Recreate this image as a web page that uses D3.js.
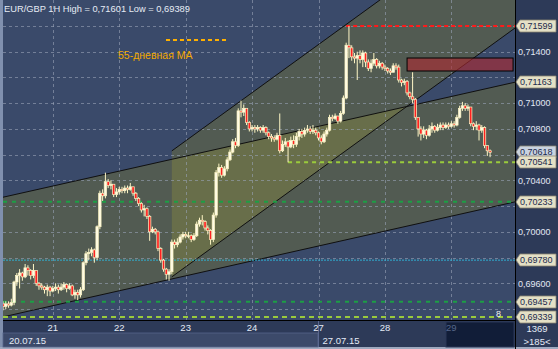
<!DOCTYPE html>
<html>
<head>
<meta charset="utf-8">
<script src="https://cdn.jsdelivr.net/npm/d3@7"></script>
<style>
  body { margin: 0; background: #2d3a57; }
  svg { display: block; font-family: "Liberation Sans", Arial, sans-serif; }
</style>
</head>
<body>
<svg id="chart" width="558" height="349"></svg>
<script>

/*************************** Data ***************************/

// hourly candles, index 0 = 20.07 06:00 ; open of each bar = close of the bar before
var firstOpen = 0.6944;
var closes = [
  0.6942, 0.6944, 0.6943, 0.6945, 0.6961, 0.6966, 0.6968, 0.6965, 0.6972, 0.6970,
  0.6966, 0.6970, 0.6960, 0.6958, 0.6957, 0.6955, 0.6957, 0.6954, 0.6956, 0.6957,
  0.6955, 0.6957, 0.6959, 0.6956, 0.6958, 0.6951, 0.6953, 0.6951, 0.6955, 0.6976,
  0.6983, 0.6984, 0.6986, 0.6980, 0.7004, 0.7030, 0.7028, 0.7039, 0.7036, 0.7037,
  0.7029, 0.7031, 0.7033, 0.7032, 0.7034, 0.7033, 0.7035, 0.7030, 0.7026, 0.7022,
  0.7017, 0.7018, 0.7012, 0.7000, 0.7002, 0.7000, 0.6987, 0.6978, 0.6971, 0.6967,
  0.6969, 0.6992, 0.6990, 0.6992, 0.6996, 0.6998, 0.6997, 0.6997, 0.6994, 0.6997,
  0.7006, 0.7009, 0.7008, 0.7003, 0.7001, 0.6994, 0.7013, 0.7046, 0.7050, 0.7044,
  0.7049, 0.7056, 0.7062, 0.7070, 0.7067, 0.7094, 0.7093, 0.7096, 0.7085, 0.7080,
  0.7081, 0.7080, 0.7081, 0.7079, 0.7081, 0.7077, 0.7074, 0.7073, 0.7072, 0.7075,
  0.7063, 0.7068, 0.7070, 0.7066, 0.7071, 0.7068, 0.7074, 0.7078, 0.7076, 0.7079,
  0.7080, 0.7078, 0.7079, 0.7077, 0.7073, 0.7070, 0.7076, 0.7079, 0.7089, 0.7088,
  0.7090, 0.7086, 0.7092, 0.7104, 0.7145, 0.7143, 0.7136, 0.7135, 0.7137, 0.7134,
  0.7139, 0.7132, 0.7127, 0.7131, 0.7134, 0.7129, 0.7131, 0.7128, 0.7127, 0.7125,
  0.7124, 0.7129, 0.7128, 0.7118, 0.7116, 0.7117, 0.7108, 0.7105, 0.7103, 0.7089,
  0.7080, 0.7076, 0.7079, 0.7075, 0.7080, 0.7082, 0.7079, 0.7081, 0.7083, 0.7081,
  0.7083, 0.7082, 0.7084, 0.7083, 0.7089, 0.7096, 0.7098, 0.7096, 0.7097, 0.7084,
  0.7082, 0.7083, 0.7079, 0.7081, 0.7067, 0.7063, 0.70618
];
var highs = [
  0.6946, 0.6946, 0.6946, 0.6948, 0.6962, 0.6968, 0.6971, 0.6969, 0.6975, 0.6974,
  0.6971, 0.6975, 0.6970, 0.6961, 0.6960, 0.6958, 0.6959, 0.6958, 0.6958, 0.6960,
  0.6959, 0.6960, 0.6961, 0.6960, 0.6960, 0.6959, 0.6955, 0.6955, 0.6957, 0.6977,
  0.6985, 0.6987, 0.6988, 0.6987, 0.7005, 0.7032, 0.7033, 0.7046, 0.7041, 0.7040,
  0.7037, 0.7034, 0.7035, 0.7035, 0.7036, 0.7036, 0.7038, 0.7035, 0.7031, 0.7027,
  0.7023, 0.7021, 0.7019, 0.7013, 0.7004, 0.7003, 0.7001, 0.6988, 0.6979, 0.6972,
  0.6971, 0.6994, 0.6994, 0.6995, 0.6998, 0.7000, 0.7000, 0.7000, 0.6998, 0.6999,
  0.7008, 0.7011, 0.7013, 0.7009, 0.7005, 0.7002, 0.7015, 0.7048, 0.7053, 0.7052,
  0.7051, 0.7058, 0.7064, 0.7072, 0.7073, 0.7096, 0.7102, 0.7099, 0.7096, 0.7086,
  0.7083, 0.7083, 0.7083, 0.7082, 0.7083, 0.7082, 0.7078, 0.7076, 0.7075, 0.7077,
  0.7092, 0.7071, 0.7073, 0.7071, 0.7074, 0.7075, 0.7077, 0.7080, 0.7080, 0.7081,
  0.7083, 0.7082, 0.7083, 0.7081, 0.7078, 0.7075, 0.7078, 0.7081, 0.7091, 0.7091,
  0.7092, 0.7090, 0.7094, 0.7106, 0.7147, 0.7160, 0.7145, 0.7139, 0.7140, 0.7141,
  0.7141, 0.7140, 0.7134, 0.7134, 0.7139, 0.7135, 0.7133, 0.7132, 0.7130, 0.7128,
  0.7127, 0.7131, 0.7131, 0.7130, 0.7119, 0.7119, 0.7118, 0.7109, 0.7124, 0.7104,
  0.7089, 0.7082, 0.7082, 0.7080, 0.7083, 0.7085, 0.7083, 0.7084, 0.7085, 0.7085,
  0.7085, 0.7085, 0.7086, 0.7086, 0.7091, 0.7098, 0.7101, 0.7100, 0.7099, 0.7097,
  0.7085, 0.7086, 0.7084, 0.7083, 0.7082, 0.7067, 0.7064
];
var lows = [
  0.6939, 0.6940, 0.6941, 0.6942, 0.6943, 0.6958, 0.6956, 0.6962, 0.6964, 0.6966,
  0.6963, 0.6964, 0.6958, 0.6955, 0.6955, 0.6952, 0.6950, 0.6950, 0.6953, 0.6954,
  0.6952, 0.6954, 0.6955, 0.6953, 0.6955, 0.6950, 0.6948, 0.6947, 0.6949, 0.6954,
  0.6974, 0.6978, 0.6981, 0.6976, 0.6978, 0.7002, 0.7024, 0.7026, 0.7034, 0.7033,
  0.7027, 0.7027, 0.7029, 0.7030, 0.7030, 0.7030, 0.7032, 0.7028, 0.7024, 0.7020,
  0.7015, 0.7012, 0.7010, 0.6993, 0.6999, 0.6998, 0.6985, 0.6976, 0.6969, 0.6963,
  0.6962, 0.6967, 0.6987, 0.6988, 0.6991, 0.6994, 0.6995, 0.6995, 0.6992, 0.6993,
  0.6996, 0.7004, 0.7005, 0.7001, 0.6998, 0.6990, 0.6992, 0.7011, 0.7043, 0.7042,
  0.7043, 0.7047, 0.7055, 0.7061, 0.7065, 0.7066, 0.7089, 0.7090, 0.7083, 0.7078,
  0.7078, 0.7077, 0.7078, 0.7077, 0.7077, 0.7075, 0.7072, 0.7070, 0.7070, 0.7071,
  0.7061, 0.7062, 0.7066, 0.7054, 0.7065, 0.7065, 0.7066, 0.7071, 0.7073, 0.7074,
  0.7077, 0.7076, 0.7076, 0.7075, 0.7071, 0.7068, 0.7069, 0.7074, 0.7078, 0.7086,
  0.7087, 0.7084, 0.7085, 0.7091, 0.7103, 0.7135, 0.7133, 0.7131, 0.7118, 0.7131,
  0.7128, 0.7128, 0.7125, 0.7124, 0.7129, 0.7127, 0.7127, 0.7126, 0.7125, 0.7123,
  0.7122, 0.7124, 0.7126, 0.7116, 0.7113, 0.7114, 0.7106, 0.7103, 0.7100, 0.7087,
  0.7074, 0.7071, 0.7073, 0.7072, 0.7074, 0.7077, 0.7077, 0.7078, 0.7079, 0.7079,
  0.7080, 0.7080, 0.7081, 0.7081, 0.7082, 0.7088, 0.7094, 0.7094, 0.7094, 0.7082,
  0.7079, 0.7079, 0.7071, 0.7077, 0.7065, 0.7059, 0.7058
];

var dayTicks  = [18, 42, 66, 90, 114, 138, 162];
var dayLabels = ["21", "22", "23", "24", "27", "28", "29"];
var weekTicks  = [0, 114];
var weekLabels = ["20.07.15", "27.07.15"];

var priceTicks = [0.694, 0.696, 0.698, 0.700, 0.702, 0.704, 0.706, 0.708, 0.710, 0.712, 0.714, 0.716];

// channels: [bar index, price]
var bigUpper   = [[0, 0.70269], [185, 0.71163]];
var bigLower   = [[0, 0.69339], [185, 0.70233]];
var steepUpper = [[61, 0.70629], [185, 0.72563]];
var steepLower = [[61, 0.69650], [185, 0.71584]];

// horizontal levels and the bar where each one starts
var levelPrices = [0.71599, 0.70541, 0.70233, 0.69780, 0.69457, 0.69339];
var levelStarts = [124, 103, 0, 0, 0, 0];

var zoneBars   = [146, 184.3];
var zonePrices = [0.71351, 0.71250];

var tagPrices = [0.71599, 0.71163, 0.70618, 0.70541, 0.70233, 0.69780, 0.69457, 0.69339];

/*************************** Styles ***************************/

var levelStyle = [
  { color: "#ff1a1a", width: 2, dash: "4,3" },
  { color: "#9acb3c", width: 2, dash: "4,4" },
  { color: "#1d9e45", width: 2, dash: "4,5" },
  { color: "#2fb0d2", width: 1, dash: "2,1" },
  { color: "#1d9e45", width: 2, dash: "4,5" },
  { color: "#9acb3c", width: 2, dash: "5,4" }
];

var bgBlue = "#3a4a6a", fillGray = "#525b52", fillOlive = "#686e4a";

/*************************** Scales ***************************/

var svg = d3.select("#chart");

var x = d3.scaleLinear().domain([0, 185]).range([3, 515]);
var y = d3.scaleLinear().domain([0.696, 0.714]).range([283.3, 51.7]);
var fmt = function(v){ return d3.format(".5f")(v).replace(".", ","); };

var candles = closes.map(function(c, i){
  return { i: i, open: i == 0 ? firstOpen : closes[i-1], close: c, high: highs[i], low: lows[i] };
});

var defs = svg.append("defs");
defs.append("clipPath").attr("id", "plotClip")
  .append("rect").attr("x", 3).attr("y", 0).attr("width", 512).attr("height", 320);

var poly = d3.line().x(function(d){ return x(d[0]); }).y(function(d){ return y(d[1]); });
var bigPoly   = [bigUpper[0], bigUpper[1], bigLower[1], bigLower[0]];
var steepPoly = [steepUpper[0], steepUpper[1], steepLower[1], steepLower[0]];

defs.append("clipPath").attr("id", "bigClip")
  .append("path").attr("d", poly(bigPoly) + "Z");

/*************************** Frame ***************************/

svg.append("rect").attr("width", 558).attr("height", 349).attr("fill", "#2d3a58");
svg.append("rect").attr("x", 0).attr("y", 0).attr("width", 3).attr("height", 349).attr("fill", "#8090ae");
svg.append("rect").attr("x", 0).attr("y", 347).attr("width", 558).attr("height", 2).attr("fill", "#9ea9bf");

var plot = svg.append("g").attr("clip-path", "url(#plotClip)");
plot.append("rect").attr("x", 3).attr("y", 0).attr("width", 512).attr("height", 320).attr("fill", bgBlue);

/*************************** Channels ***************************/

plot.append("path").attr("d", poly(bigPoly) + "Z").attr("fill", fillGray);
plot.append("path").attr("d", poly(steepPoly) + "Z").attr("fill", fillGray);
plot.append("g").attr("clip-path", "url(#bigClip)")
  .append("path").attr("d", poly(steepPoly) + "Z").attr("fill", fillOlive);

/*************************** Grid ***************************/

plot.selectAll(".hgrid").data(priceTicks).join("line")
  .attr("x1", 3).attr("x2", 515)
  .attr("y1", function(d){ return Math.round(y(d)) + 0.5; })
  .attr("y2", function(d){ return Math.round(y(d)) + 0.5; })
  .attr("stroke", "#9aa4b8").attr("stroke-opacity", 0.6).attr("stroke-dasharray", "3,3");

plot.selectAll(".vgrid").data(dayTicks).join("line")
  .attr("x1", function(d){ return Math.round(x(d)) + 0.5; })
  .attr("x2", function(d){ return Math.round(x(d)) + 0.5; })
  .attr("y1", 0).attr("y2", 320)
  .attr("stroke", "#9aa4b8").attr("stroke-opacity", 0.6).attr("stroke-dasharray", "3,3");

/*************************** Channel lines ***************************/

[bigUpper, bigLower, steepUpper, steepLower].forEach(function(l){
  plot.append("path").attr("d", poly(l)).attr("stroke", "#101010").attr("stroke-width", 1).attr("fill", "none");
});

/*************************** Levels ***************************/

plot.selectAll(".level").data(levelPrices).join("line")
  .attr("x1", function(d, i){ return x(levelStarts[i]); })
  .attr("x2", 515)
  .attr("y1", function(d){ return y(d); })
  .attr("y2", function(d){ return y(d); })
  .attr("stroke", function(d, i){ return levelStyle[i].color; })
  .attr("stroke-width", function(d, i){ return levelStyle[i].width; })
  .attr("stroke-dasharray", function(d, i){ return levelStyle[i].dash; });

// resistance zone
plot.append("rect")
  .attr("x", x(zoneBars[0])).attr("y", y(zonePrices[0]))
  .attr("width", x(zoneBars[1]) - x(zoneBars[0]))
  .attr("height", y(zonePrices[1]) - y(zonePrices[0]))
  .attr("fill", "#b02a32").attr("fill-opacity", 0.6)
  .attr("stroke", "#000").attr("stroke-width", 1);

/*************************** Candles ***************************/

var cg = plot.append("g");
var bw = 2.4;

cg.selectAll(".wickUp").data(candles).join("line")
  .attr("x1", function(d){ return x(d.i); }).attr("x2", function(d){ return x(d.i); })
  .attr("y1", function(d){ return y(d.high); })
  .attr("y2", function(d){ return y(Math.max(d.open, d.close)); })
  .attr("stroke", "#fff7c6").attr("stroke-width", 1);

cg.selectAll(".wickDn").data(candles).join("line")
  .attr("x1", function(d){ return x(d.i); }).attr("x2", function(d){ return x(d.i); })
  .attr("y1", function(d){ return y(Math.min(d.open, d.close)); })
  .attr("y2", function(d){ return y(d.low); })
  .attr("stroke", "#fff7c6").attr("stroke-width", 1);

cg.selectAll(".body").data(candles).join("rect")
  .attr("x", function(d){ return x(d.i) - bw/2; })
  .attr("width", bw)
  .attr("y", function(d){ return y(Math.max(d.open, d.close)); })
  .attr("height", function(d){ return Math.max(0.8, Math.abs(y(d.open) - y(d.close))); })
  .attr("fill", function(d){ return d.close < d.open ? "#ff2020" : "#fffbe4"; })
  .attr("stroke", "#fff7c6").attr("stroke-width", 0.7);

/*************************** Texts in plot ***************************/

svg.append("text").attr("x", 4).attr("y", 12)
  .attr("font-size", 9.3).attr("fill", "#e6ecf5")
  .text("EUR/GBP 1H High = " + fmt(d3.max(highs) + 0.00001) + " Low = " + fmt(0.69389));

svg.append("line").attr("x1", 166).attr("x2", 228).attr("y1", 40).attr("y2", 40)
  .attr("stroke", "#ffb000").attr("stroke-width", 2).attr("stroke-dasharray", "4,3");
svg.append("text").attr("x", 118).attr("y", 59)
  .attr("font-size", 10.5).attr("fill", "#f2a900").text("55-дневная МА");

svg.append("text").attr("x", 496).attr("y", 317)
  .attr("font-size", 9).attr("fill", "#f0f0f0").text("8");

/*************************** Plot borders ***************************/

svg.append("line").attr("x1", 515.5).attr("x2", 515.5).attr("y1", 0).attr("y2", 349).attr("stroke", "#000");
svg.append("line").attr("x1", 3).attr("x2", 515).attr("y1", 320.5).attr("y2", 320.5).attr("stroke", "#000");

/*************************** Price axis ***************************/

// tick labels that sit under a price tag are hidden by it, so they are left out
var freeTicks = priceTicks.filter(function(p){
  return d3.min(tagPrices, function(t){ return Math.abs(y(t) - y(p)); }) > 9;
});

svg.selectAll(".plabel").data(freeTicks).join("text")
  .attr("x", 518).attr("y", function(d){ return y(d) + 3.3; })
  .attr("font-size", 9).attr("fill", "#e2e8f4")
  .text(function(d){ return fmt(d); });

var tags = svg.selectAll(".tag").data(tagPrices).join("g")
  .attr("transform", function(d){ return "translate(0," + Math.round(y(d)) + ")"; });

tags.append("path")
  .attr("d", "M516,0 L520,-6 L556,-6 L556,6 L520,6 Z")
  .attr("fill", function(d){ return d == 0.70618 ? "#c9d2e0" : "#e4e0c6"; })
  .attr("stroke", "#8a8672").attr("stroke-width", 0.8);

tags.append("text").attr("x", 520).attr("y", 3.3)
  .attr("font-size", 9).attr("fill", "#1c2a4c")
  .text(function(d){ return fmt(d); });

/*************************** Time axis ***************************/

svg.append("rect").attr("x", 3).attr("y", 333).attr("width", 315).attr("height", 14)
  .attr("fill", "#3c4a6a").attr("stroke", "#55648a").attr("stroke-width", 0.8);
svg.append("line").attr("x1", 318.5).attr("x2", 318.5).attr("y1", 321).attr("y2", 347).attr("stroke", "#5a6890");
svg.append("rect").attr("x", 446).attr("y", 322).attr("width", 68).attr("height", 25)
  .attr("fill", "#111d38").attr("stroke", "#2a3656");

svg.selectAll(".dlabel").data(dayTicks).join("text")
  .attr("x", function(d){ return x(d); }).attr("y", 331)
  .attr("text-anchor", "middle").attr("font-size", 9.5)
  .attr("fill", function(d, i){ return i == dayTicks.length - 1 ? "#56668a" : "#e4eaf6"; })
  .text(function(d, i){ return dayLabels[i]; });

svg.selectAll(".wlabel").data(weekTicks).join("text")
  .attr("x", function(d){ return x(d) + (d == 0 ? 6 : 4); }).attr("y", 344)
  .attr("font-size", 9.5).attr("fill", "#e4eaf6")
  .text(function(d, i){ return weekLabels[i]; });

svg.append("text").attr("x", 537).attr("y", 332).attr("text-anchor", "middle")
  .attr("font-size", 9.5).attr("fill", "#e4eaf6").text("1369");
svg.append("text").attr("x", 537).attr("y", 345).attr("text-anchor", "middle")
  .attr("font-size", 9.5).attr("fill", "#e4eaf6").text(">185<");

</script>
</body>
</html>
